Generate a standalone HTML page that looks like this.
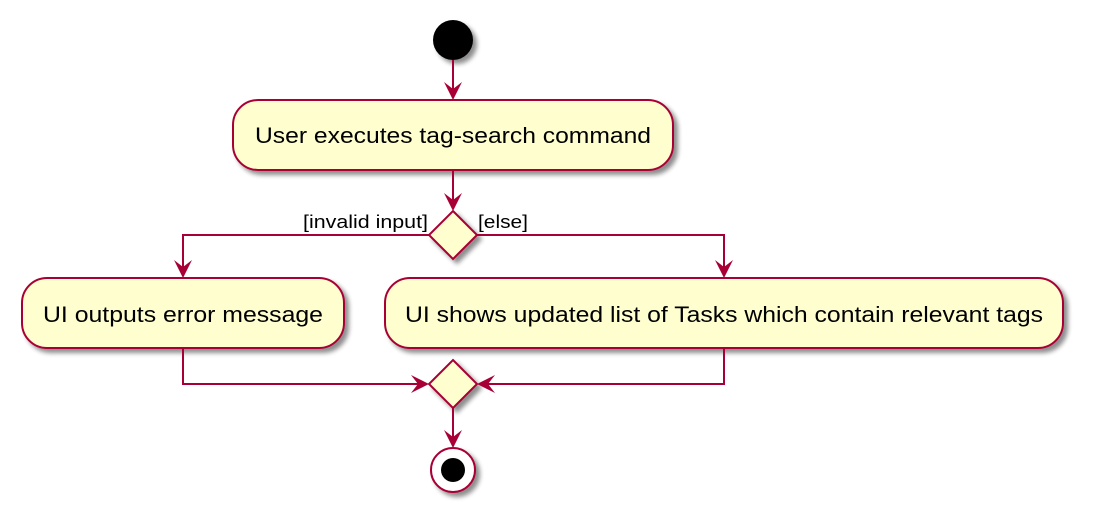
<!DOCTYPE html>
<html><head><meta charset="utf-8"><style>
html,body{margin:0;padding:0;background:#fff;}
svg{display:block;}
text{font-family:"Liberation Sans",sans-serif;fill:#000;}
</style></head><body>
<svg width="1096" height="524" viewBox="0 0 1096 524" xmlns="http://www.w3.org/2000/svg">
<defs>
<filter id="sh" x="-20%" y="-20%" width="150%" height="150%">
<feGaussianBlur in="SourceAlpha" stdDeviation="2.5"/>
<feOffset dx="4" dy="4" result="b"/>
<feComponentTransfer><feFuncA type="linear" slope="0.45"/></feComponentTransfer>
<feMerge><feMergeNode/><feMergeNode in="SourceGraphic"/></feMerge>
</filter>
</defs>
<g stroke="#A80036" stroke-width="2" fill="#FEFECE">
<circle cx="453" cy="40" r="20" fill="#000" stroke="none" filter="url(#sh)"/>
<rect x="233" y="100" width="440" height="70" rx="25" ry="25" filter="url(#sh)"/>
<polygon points="453,211 477,235 453,259 429,235" filter="url(#sh)"/>
<rect x="22" y="278" width="322" height="70" rx="25" ry="25" filter="url(#sh)"/>
<rect x="385" y="278" width="678" height="70" rx="25" ry="25" filter="url(#sh)"/>
<polygon points="453,360 477,384 453,408 429,384" filter="url(#sh)"/>
<circle cx="453" cy="470" r="22" fill="#fff" filter="url(#sh)"/>
<circle cx="453" cy="470" r="12" fill="#000" stroke="none"/>
<g fill="none">
<line x1="453" y1="60" x2="453" y2="98"/>
<line x1="453" y1="170" x2="453" y2="209"/>
<polyline points="429,235 183,235 183,276"/>
<polyline points="477,235 724,235 724,276"/>
<polyline points="183,348 183,384 427,384"/>
<polyline points="724,348 724,384 479,384"/>
<line x1="453" y1="408" x2="453" y2="446"/>
</g>
<g fill="#A80036" stroke="none">
<polygon points="453,100 444,82 453,89 462,82"/>
<polygon points="453,211 444,193 453,200 462,193"/>
<polygon points="183,278 174,260 183,267 192,260"/>
<polygon points="724,278 715,260 724,267 733,260"/>
<polygon points="429,384 411,375 418,384 411,393"/>
<polygon points="477,384 495,375 488,384 495,393"/>
<polygon points="453,448 444,430 453,437 462,430"/>
</g>
</g>
<text x="453" y="143" font-size="22" text-anchor="middle" textLength="396" lengthAdjust="spacingAndGlyphs">User executes tag-search command</text>
<text x="183" y="322" font-size="22" text-anchor="middle" textLength="280" lengthAdjust="spacingAndGlyphs">UI outputs error message</text>
<text x="724" y="322" font-size="22" text-anchor="middle" textLength="638" lengthAdjust="spacingAndGlyphs">UI shows updated list of Tasks which contain relevant tags</text>
<text x="428" y="228" font-size="18" text-anchor="end" textLength="125" lengthAdjust="spacingAndGlyphs">[invalid input]</text>
<text x="478" y="228" font-size="18" textLength="50" lengthAdjust="spacingAndGlyphs">[else]</text>
</svg>
</body></html>
